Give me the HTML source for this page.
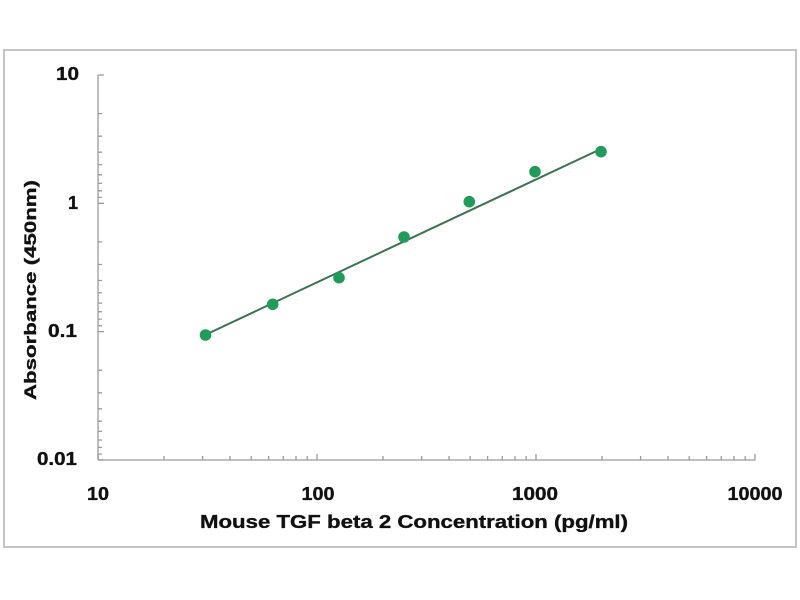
<!DOCTYPE html>
<html><head><meta charset="utf-8"><style>
html,body{margin:0;padding:0;background:#fff;}
svg{display:block;}
text{font-family:"Liberation Sans",Arial,sans-serif;font-weight:bold;fill:#111;stroke:#111;stroke-width:0.35;}
</style></head><body>
<svg width="800" height="600" viewBox="0 0 800 600" xmlns="http://www.w3.org/2000/svg">
<rect x="0" y="0" width="800" height="600" fill="#fff"/>
<rect x="4" y="50" width="792" height="497" fill="none" stroke="#c4c4c4" stroke-width="2"/>
<g stroke="#9a9a9a" stroke-width="1.3" fill="none">
<line x1="98" y1="75" x2="98" y2="460"/>
<line x1="98" y1="460" x2="755" y2="460"/>
<path d="
M98 460 V454 M164 460 V456 M202.6 460 V456 M230 460 V456 M251.2 460 V456 M268.6 460 V456 M283.3 460 V456 M296 460 V456 M307.2 460 V456
M317 460 V454 M383 460 V456 M421.6 460 V456 M449 460 V456 M470.2 460 V456 M487.6 460 V456 M502.3 460 V456 M515 460 V456 M526.2 460 V456
M536 460 V454 M602 460 V456 M640.6 460 V456 M668 460 V456 M689.2 460 V456 M706.6 460 V456 M721.3 460 V456 M734 460 V456 M745.2 460 V456
M755 460 V454"/>
<path d="
M98 75 H104 M98 113.6 H102 M98 136.2 H102 M98 152.2 H102 M98 164.6 H102 M98 174.8 H102 M98 183.4 H102 M98 190.8 H102 M98 197.4 H102
M98 203.3 H104 M98 241.9 H102 M98 264.5 H102 M98 280.5 H102 M98 292.9 H102 M98 303.1 H102 M98 311.7 H102 M98 319.1 H102 M98 325.7 H102
M98 331.6 H104 M98 370.2 H102 M98 392.8 H102 M98 408.8 H102 M98 421.2 H102 M98 431.4 H102 M98 440 H102 M98 447.4 H102 M98 454 H102
M98 460 H104"/>
</g>
<g font-size="18" text-anchor="end">
<text x="79" y="80" textLength="23" lengthAdjust="spacingAndGlyphs">10</text>
<text x="78" y="209">1</text>
<text x="77" y="337" textLength="29" lengthAdjust="spacingAndGlyphs">0.1</text>
<text x="77" y="465" textLength="40" lengthAdjust="spacingAndGlyphs">0.01</text>
</g>
<g font-size="18" text-anchor="middle">
<text x="98" y="500" textLength="22" lengthAdjust="spacingAndGlyphs">10</text>
<text x="318" y="500" textLength="33" lengthAdjust="spacingAndGlyphs">100</text>
<text x="535" y="500" textLength="46" lengthAdjust="spacingAndGlyphs">1000</text>
<text x="755" y="500" textLength="55" lengthAdjust="spacingAndGlyphs">10000</text>
</g>
<text x="414" y="528" font-size="18" text-anchor="middle" textLength="428" lengthAdjust="spacingAndGlyphs">Mouse TGF beta 2 Concentration (pg/ml)</text>
<text transform="translate(36,290) rotate(-90)" font-size="17" text-anchor="middle" textLength="220" lengthAdjust="spacingAndGlyphs">Absorbance (450nm)</text>
<line x1="206" y1="334.5" x2="603" y2="148" stroke="#3a7352" stroke-width="2"/>
<g fill="#1e9c58">
<circle cx="205.5" cy="335" r="5.8"/>
<circle cx="272.7" cy="304.3" r="5.8"/>
<circle cx="339" cy="277.7" r="5.8"/>
<circle cx="404" cy="237" r="5.8"/>
<circle cx="469.3" cy="201.7" r="5.8"/>
<circle cx="535" cy="171.7" r="5.8"/>
<circle cx="601" cy="151.7" r="5.8"/>
</g>
</svg>
</body></html>
